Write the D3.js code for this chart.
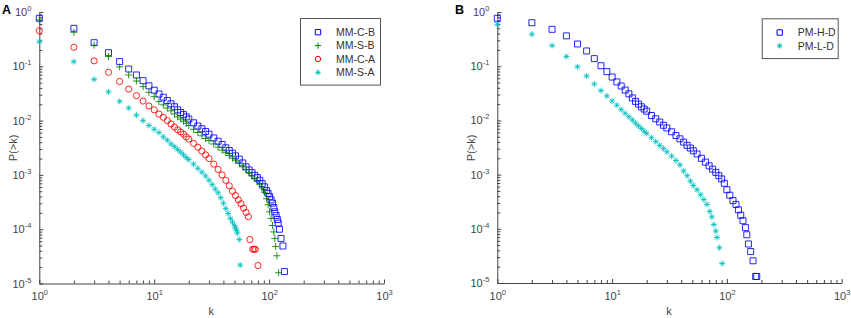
<!DOCTYPE html>
<html>
<head>
<meta charset="utf-8">
<script src="https://cdn.jsdelivr.net/npm/d3@7"></script>
<style>
body{margin:0;background:#fff;}
svg{display:block;font-family:"Liberation Sans",Arial,sans-serif;}
</style>
</head>
<body>
<svg id="chart" width="851" height="318"></svg>
<script>
// axis ticks
const kTicks = [1, 10, 100, 1000];
const pTicks = [1, 1e-1, 1e-2, 1e-3, 1e-4, 1e-5];

// panel A
const kMMCB = [1,2,3,4,5,6,7,8,9,10,11,12,13,14,15,16,17,18,19,20,
  22,24,26,28,30,33,36,39,42,45,48,51,55,59,63,67,71,75,79,83,87,91,95,98,101,104,107,110,112,115,118,120,123,127,132,136];
const pMMCB = [0.766,0.501,0.272,0.178,0.122,0.0891,0.0692,0.0543,0.0437,0.0363,0.0309,0.0269,0.0234,0.0204,0.0180,0.0158,0.0141,0.0129,0.0117,0.0107,
  0.00912,0.00794,0.00708,0.00631,0.00562,0.00479,0.00417,0.00363,0.00316,0.00282,0.00251,0.00224,0.00195,0.00166,0.00141,0.00123,0.00110,0.00098,0.000891,0.000794,0.000692,0.000603,0.000513,0.000457,0.000398,0.000347,0.000302,0.000251,0.000209,0.000178,0.000151,0.000129,0.000100,6.76e-5,4.9e-5,1.66e-5];

const kMMSB = [1,2,3,4,5,6,7,8,9,10,11,12,13,14,15,16,17,18,19,20,
  22,24,26,28,30,33,36,39,42,45,48,51,55,59,63,67,71,75,79,83,87,91,95,98,101,104,107,110,112,114,117,121];
const pMMSB = [0.713,0.423,0.245,0.151,0.0977,0.0692,0.0537,0.0422,0.0331,0.0275,0.0224,0.0195,0.0170,0.0151,0.0132,0.0117,0.0107,0.00977,0.00891,0.00813,
  0.00692,0.00603,0.00525,0.00468,0.00427,0.00372,0.00324,0.00288,0.00257,0.00229,0.00204,0.00186,0.00162,0.00141,0.00126,0.00110,0.000955,0.000851,0.000759,0.000676,0.000575,0.000479,0.000363,0.000282,0.000209,0.000158,0.000117,8.91e-5,6.76e-5,4.79e-5,3.24e-5,1.58e-5];

const kMMCA = [1,2,3,4,5,6,7,8,9,10,11,12,13,14,15,16,17,18,19,20,
  22,24,26,28,30,33,36,39,42,45,48,51,54,57,60,63,66,68,72,74,76,80];
const pMMCA = [0.453,0.224,0.126,0.0776,0.0525,0.0380,0.0288,0.0229,0.0186,0.0158,0.0132,0.0115,0.0100,0.00871,0.00759,0.00676,0.00617,0.00562,0.00501,0.00457,
  0.00380,0.00324,0.00275,0.00234,0.00200,0.00158,0.00126,0.00100,0.000794,0.000631,0.000501,0.000417,0.000347,0.000295,0.000245,0.000204,0.000170,6.46e-5,4.27e-5,4.27e-5,4.27e-5,2.14e-5];

const kMMSA = [1,2,3,4,5,6,7,8,9,10,11,12,13,14,15,16,17,18,19,20,
  22,24,26,28,30,32,34,36,38,40,42,44,46,48,50,51,52,53,55,56];
const pMMSA = [0.284,0.122,0.0575,0.0339,0.0226,0.0170,0.0126,0.0100,0.00813,0.00692,0.00603,0.00501,0.00437,0.00372,0.00331,0.00295,0.00263,0.00234,0.00209,0.00191,
  0.00158,0.00132,0.00112,0.000955,0.000794,0.000661,0.000550,0.000468,0.000380,0.000302,0.000240,0.000195,0.000158,0.000135,0.000117,0.000105,9.55e-5,8.51e-5,6.46e-5,2.19e-5];

// panel B
const kPMHD = [1,2,3,4,5,6,7,8,9,10,11,12,13,14,15,16,17,18,19,20,
  22,24,26,28,30,33,36,39,42,45,48,51,55,60,65,70,75,80,85,90,95,100,106,113,120,126,132,138,145,149,154,161,169,178,182];
const pPMHD = [0.764,0.635,0.479,0.363,0.257,0.191,0.138,0.102,0.0794,0.0631,0.0513,0.0432,0.0363,0.0309,0.0260,0.0224,0.0200,0.0178,0.0162,0.0148,
  0.0123,0.0107,0.00933,0.00813,0.00724,0.00617,0.00525,0.00457,0.00398,0.00347,0.00309,0.00275,0.00240,0.00200,0.00170,0.00145,0.00126,0.00110,0.000955,0.000832,0.000692,0.000525,0.000417,0.000331,0.000282,0.000224,0.000178,0.000141,0.000105,7.76e-5,5.25e-5,3.8e-5,2.57e-5,1.32e-5,1.32e-5];

const kPMLD = [1,2,3,4,5,6,7,8,9,10,11,12,13,14,15,16,17,18,19,20,
  22,24,26,28,30,33,36,39,42,45,48,51,55,59,63,67,71,74,77,80,82,86,91];
const pPMLD = [0.593,0.389,0.240,0.151,0.0977,0.0661,0.0468,0.0355,0.0282,0.0229,0.0191,0.0158,0.0135,0.0117,0.0102,0.00891,0.00794,0.00708,0.00631,0.00575,
  0.00479,0.00407,0.00347,0.00302,0.00263,0.00219,0.00182,0.00151,0.00117,0.000955,0.000759,0.000631,0.000525,0.000427,0.000347,0.000282,0.000209,0.000166,0.000120,9.12e-5,6.92e-5,4.47e-5,2.29e-5];

// matlab-like markers
const plusSym = { draw: function(ctx, size){
  const r = Math.sqrt(size)/2;
  ctx.moveTo(-r,0); ctx.lineTo(r,0); ctx.moveTo(0,-r); ctx.lineTo(0,r);
}};
const starSym = { draw: function(ctx, size){
  const r = Math.sqrt(size)/2, d = r*0.72;
  ctx.moveTo(-r,0); ctx.lineTo(r,0); ctx.moveTo(0,-r); ctx.lineTo(0,r);
  ctx.moveTo(-d,-d); ctx.lineTo(d,d); ctx.moveTo(-d,d); ctx.lineTo(d,-d);
}};

const svg = d3.select("#chart");

const panels = [
  { label: "A", lx: 2, x0: 39.3, x1: 384, y0: 283.5, y1: 12,
    legend: { right: 380, top: 18, w: 80 },
    series: [
      { name: "MM-C-B", k: kMMCB, p: pMMCB, type: d3.symbolSquare, size: 36, color: "#0000ff" },
      { name: "MM-S-B", k: kMMSB, p: pMMSB, type: plusSym, size: 49, color: "#008000" },
      { name: "MM-C-A", k: kMMCA, p: pMMCA, type: d3.symbolCircle, size: 30, color: "#ff0000" },
      { name: "MM-S-A", k: kMMSA, p: pMMSA, type: starSym, size: 36, color: "#00bfbf" }
    ]},
  { label: "B", lx: 455, x0: 497.3, x1: 841.7, y0: 283, y1: 12,
    legend: { right: 837.7, top: 18.3, w: 76 },
    series: [
      { name: "PM-H-D", k: kPMHD, p: pPMHD, type: d3.symbolSquare, size: 36, color: "#0000ff" },
      { name: "PM-L-D", k: kPMLD, p: pPMLD, type: starSym, size: 36, color: "#00bfbf" }
    ]}
];

const renderPanel = function(cfg){
  const g = svg.append("g");
  const x = d3.scaleLog().domain([1, 1000]).range([cfg.x0, cfg.x1]);
  const y = d3.scaleLog().domain([1e-5, 1]).range([cfg.y0, cfg.y1]);

  // minor ticks
  g.append("g")
    .attr("transform", "translate(0," + cfg.y0 + ")")
    .call(d3.axisBottom(x).tickValues(x.ticks().filter(d => kTicks.indexOf(d) < 0)).tickSizeInner(-3).tickSizeOuter(0).tickFormat(""))
    .call(a => a.select(".domain").remove())
    .selectAll("line").attr("stroke", "#444");
  g.append("g")
    .attr("transform", "translate(" + cfg.x0 + ",0)")
    .call(d3.axisLeft(y).tickValues(y.ticks().filter(d => pTicks.indexOf(+d.toPrecision(3)) < 0)).tickSizeInner(-3).tickSizeOuter(0).tickFormat(""))
    .call(a => a.select(".domain").remove())
    .selectAll("line").attr("stroke", "#444");

  const pow = function(sel){
    sel.selectAll(".tick text").each(function(d){
      const t = d3.select(this);
      t.text(null);
      t.append("tspan").text("10");
      t.append("tspan").attr("dy", -5).attr("font-size", 7.5).text(Math.round(Math.log10(d)));
    });
  };

  const xa = g.append("g")
    .attr("transform", "translate(0," + cfg.y0 + ")")
    .call(d3.axisBottom(x).tickValues(kTicks).tickSizeInner(-4).tickSizeOuter(0).tickPadding(9).tickFormat(""));
  const ya = g.append("g")
    .attr("transform", "translate(" + cfg.x0 + ",0)")
    .call(d3.axisLeft(y).tickValues(pTicks).tickSizeInner(-4).tickSizeOuter(0).tickPadding(8).tickFormat(""));
  [xa, ya].forEach(function(a){
    a.attr("font-family", null).attr("font-size", 11);
    a.select(".domain").attr("stroke", "#444");
    a.selectAll(".tick line").attr("stroke", "#444");
    a.selectAll(".tick text").attr("fill", "#444");
    pow(a);
  });

  // axis titles
  g.append("text")
    .attr("x", (cfg.x0 + cfg.x1) / 2 - 0.5).attr("y", 315)
    .attr("text-anchor", "middle").attr("font-size", 11).attr("fill", "#444")
    .text("k");
  g.append("text")
    .attr("transform", "translate(" + (cfg.x0 - 22) + ",148) rotate(-90)")
    .attr("text-anchor", "middle").attr("font-size", 11).attr("fill", "#444")
    .text("P(>k)");

  g.append("text")
    .attr("x", cfg.lx).attr("y", 13.5)
    .attr("font-size", 12.5).attr("font-weight", "bold").attr("fill", "#000")
    .text(cfg.label);

  // markers
  cfg.series.forEach(function(s){
    const sym = d3.symbol().type(s.type).size(s.size);
    g.append("g").selectAll("path")
      .data(s.k.map((k, i) => ({ k: k, p: s.p[i] })))
      .enter()
      .append("path")
      .attr("transform", d => "translate(" + x(d.k) + "," + y(d.p) + ")")
      .attr("d", sym)
      .attr("fill", "none")
      .attr("stroke", s.color)
      .attr("stroke-width", 1)
      .attr("stroke-opacity", 0.85);
  });

  // legend
  const L = cfg.legend, rowH = 13.4;
  const lg = g.append("g").attr("transform", "translate(" + (L.right - L.w) + "," + L.top + ")");
  lg.append("rect")
    .attr("x", 0.5).attr("y", 0.5)
    .attr("width", L.w).attr("height", cfg.series.length * rowH + 13)
    .attr("fill", "#fff").attr("stroke", "#555").attr("stroke-width", 1);
  cfg.series.forEach(function(s, i){
    const cy = 7.5 + rowH * (i + 0.5);
    lg.append("path")
      .attr("transform", "translate(18," + cy + ")")
      .attr("d", d3.symbol().type(s.type).size(s.size * 0.8))
      .attr("fill", "none").attr("stroke", s.color).attr("stroke-width", 1);
    lg.append("text")
      .attr("x", 36).attr("y", cy + 3.8)
      .attr("font-size", 10.5).attr("fill", "#333")
      .text(s.name);
  });
};

panels.forEach(renderPanel);
</script>
</body>
</html>
